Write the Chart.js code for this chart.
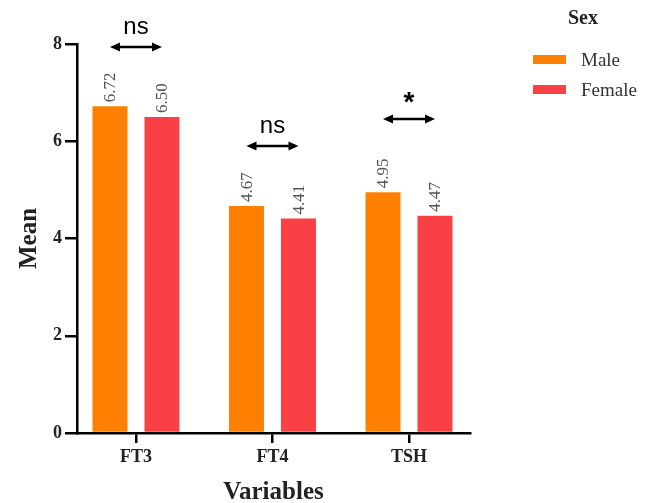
<!DOCTYPE html>
<html>
<head>
<meta charset="utf-8">
<script src="https://cdn.jsdelivr.net/npm/chart.js@4/dist/chart.umd.min.js"></script>
<style>
  body { margin: 0; background: #fff; }
  #wrap { position: relative; width: 652px; height: 503px; }
  #legend { position: absolute; left: 520px; top: 0; width: 132px; font-family: "Liberation Serif", serif; color: #333; }
  #legend .title { position: absolute; left: 35px; top: 6px; width: 56px; text-align: center; font-weight: bold; font-size: 20px; color: #222; }
  #legend .item { position: absolute; left: 13px; height: 24px; line-height: 24px; font-size: 19px; white-space: nowrap; }
  #legend .swatch { display: inline-block; width: 33px; height: 9px; vertical-align: middle; margin-right: 15px; position: relative; top: -2px; }
</style>
</head>
<body>
<div id="wrap">
  <canvas id="chart" width="652" height="503"></canvas>
  <div id="legend"></div>
</div>
<script>
const categories = ['FT3', 'FT4', 'TSH'];
const maleMeans = [6.72, 4.67, 4.95];
const femaleMeans = [6.50, 4.41, 4.47];
const sigLabels = ['ns', 'ns', '*'];
const sigLevels = [7.94, 5.90, 6.46];
const yTicks = [0, 2, 4, 6, 8];

const serif = '"Liberation Serif", "Times New Roman", serif';
const sans = '"Liberation Sans", Arial, sans-serif';

const valueLabels = {
    id: 'valueLabels',
    afterDatasetsDraw(chart) {
        const ctx = chart.ctx;
        ctx.save();
        ctx.font = '17px ' + serif;
        ctx.fillStyle = '#555';
        ctx.textAlign = 'left';
        ctx.textBaseline = 'middle';
        chart.data.datasets.forEach((ds, di) => {
            chart.getDatasetMeta(di).data.forEach((bar, i) => {
                ctx.save();
                ctx.translate(bar.x + 1, bar.y - 4);
                ctx.rotate(-Math.PI / 2);
                ctx.fillText(ds.data[i].y.toFixed(2), 0, 0);
                ctx.restore();
            });
        });
        ctx.restore();
    }
};

const sigMarks = {
    id: 'sigMarks',
    afterDraw(chart) {
        const ctx = chart.ctx;
        const y = chart.scales.y;
        const m0 = chart.getDatasetMeta(0).data;
        const m1 = chart.getDatasetMeta(1).data;
        ctx.save();
        ctx.strokeStyle = '#000';
        ctx.fillStyle = '#000';
        categories.forEach((c, i) => {
            const x1 = m0[i].x, x2 = m1[i].x;
            const py = y.getPixelForValue(sigLevels[i]);
            ctx.lineWidth = 2.5;
            ctx.beginPath();
            ctx.moveTo(x1 + 4, py);
            ctx.lineTo(x2 - 4, py);
            ctx.stroke();
            // arrow heads
            ctx.beginPath();
            ctx.moveTo(x1, py);
            ctx.lineTo(x1 + 10, py - 4.5);
            ctx.lineTo(x1 + 10, py + 4.5);
            ctx.closePath();
            ctx.fill();
            ctx.beginPath();
            ctx.moveTo(x2, py);
            ctx.lineTo(x2 - 10, py - 4.5);
            ctx.lineTo(x2 - 10, py + 4.5);
            ctx.closePath();
            ctx.fill();
            ctx.textAlign = 'center';
            ctx.textBaseline = 'alphabetic';
            const mid = (x1 + x2) / 2;
            if (sigLabels[i] === '*') {
                ctx.font = 'bold 28px ' + sans;
                ctx.fillText(sigLabels[i], mid, py - 8);
            } else {
                ctx.font = '24px ' + sans;
                ctx.fillText(sigLabels[i], mid, py - 13);
            }
        });
        ctx.restore();
    }
};

const chart = new Chart(document.getElementById('chart'), {
    type: 'bar',
    data: {
        datasets: [
            {
                label: 'Male',
                data: maleMeans.map((v, i) => ({ x: i, y: v })),
                backgroundColor: '#FF8000',
            },
            {
                label: 'Female',
                data: femaleMeans.map((v, i) => ({ x: i, y: v })),
                backgroundColor: '#F94145',
            },
        ],
    },
    options: {
        responsive: false,
        animation: false,
        categoryPercentage: 0.762,
        barPercentage: 0.673,
        layout: { padding: { top: 44, right: 182, left: 0, bottom: 0 } },
        plugins: {
            legend: { display: false },
            tooltip: { enabled: false },
        },
        scales: {
            x: {
                type: 'linear',
                min: -0.432,
                max: 2.447,
                offset: false,
                afterFit: s => { s.height = 70; },
                afterBuildTicks: s => { s.ticks = categories.map((c, i) => ({ value: i })); },
                border: { display: true, color: '#000', width: 2.5 },
                grid: { offset: false, drawOnChartArea: false, drawTicks: true, tickLength: 10, color: '#000', lineWidth: 2.5 },
                ticks: {
                    padding: 4,
                    color: '#222',
                    font: { family: serif, size: 18, weight: 'bold' },
                    callback: v => categories[v],
                },
                title: {
                    display: true,
                    text: 'Variables',
                    color: '#222',
                    padding: { top: 0, bottom: -2 },
                    font: { family: serif, size: 25, weight: 'bold', lineHeight: 1 },
                },
            },
            y: {
                min: 0,
                max: 8,
                afterFit: s => { s.width = 77; },
                afterBuildTicks: s => { s.ticks = yTicks.map(v => ({ value: v })); },
                border: { display: true, color: '#000', width: 2.5 },
                grid: { drawOnChartArea: false, drawTicks: true, tickLength: 12, color: '#000', lineWidth: 2.5 },
                ticks: {
                    padding: 3,
                    color: '#222',
                    font: { family: serif, size: 18, weight: 'bold' },
                },
                title: {
                    display: true,
                    text: 'Mean',
                    color: '#222',
                    padding: { top: 17, bottom: 0 },
                    font: { family: serif, size: 25, weight: 'bold', lineHeight: 1 },
                },
            },
        },
    },
    plugins: [valueLabels, sigMarks],
});

// legend built from the chart's datasets
const legend = document.getElementById('legend');
let html = '<div class="title">Sex</div>';
chart.data.datasets.forEach((ds, i) => {
    html += '<div class="item" style="top:' + (48 + i * 30) + 'px"><span class="swatch" style="background:' + ds.backgroundColor + '"></span>' + ds.label + '</div>';
});
legend.innerHTML = html;
</script>
</body>
</html>
